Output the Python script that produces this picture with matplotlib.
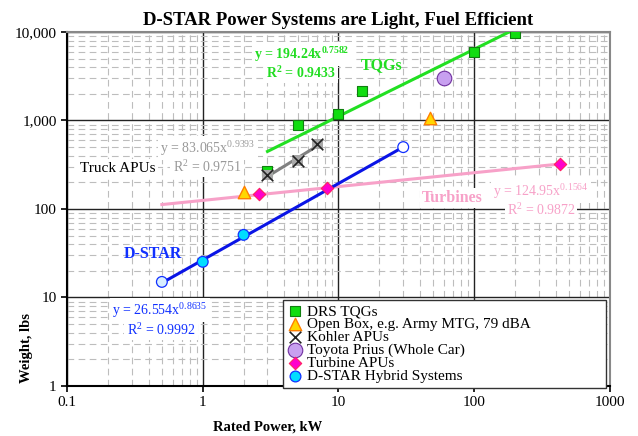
import numpy as np
import matplotlib.pyplot as plt
from matplotlib.ticker import FixedLocator, NullFormatter

plt.rcParams['font.family'] = ['Liberation Serif', 'DejaVu Serif']
plt.rcParams['mathtext.fontset'] = 'custom'
plt.rcParams['mathtext.rm'] = 'Liberation Serif'
plt.rcParams['mathtext.bf'] = 'Liberation Serif:bold'

# data
drs_kw = [3, 5, 10, 15, 100, 200]
drs_lb = [270, 890, 1180, 2170, 5900, 9700]

openbox_kw = [2, 47]
openbox_lb = [157, 1070]

kohler_kw = [3, 5, 7]
kohler_lb = [242, 351, 542]

prius_kw = [60]
prius_lb = [3050]

turbine_kw = [2.6, 8.3, 430]
turbine_lb = [148, 171, 322]

dstar_kw = [0.5, 1, 2, 30]
dstar_lb = [15, 25.3, 51, 500]

# power-law trendlines printed on the chart: y = a * x^b, R^2
fit_tqg = (194.24, 0.7582, 0.9433)
fit_kohler = (83.065, 0.9393, 0.9751)
fit_turb = (124.95, 0.1564, 0.9872)
fit_dstar = (26.554, 0.8635, 0.9992)


def trend(fit, x0, x1):
    x = np.logspace(np.log10(x0), np.log10(x1), 50)
    return x, fit[0] * x ** fit[1]


def fx(px):
    return px / 638.0


def fy(py):
    return 1 - py / 436.0


fig = plt.figure(figsize=(6.38, 4.36), dpi=100)
ax = fig.add_axes([0.105, 0.1147, 0.851, 0.812])
ax.set_xscale('log')
ax.set_yscale('log')
ax.set_xlim(0.1, 1000)
ax.set_ylim(1, 10000)

# grid
ax.xaxis.set_minor_locator(FixedLocator([m * 10.0 ** e for e in range(-1, 3) for m in range(2, 10)]))
ax.yaxis.set_minor_locator(FixedLocator([m * 10.0 ** e for e in range(0, 4) for m in range(2, 10)]))
ax.xaxis.set_minor_formatter(NullFormatter())
ax.yaxis.set_minor_formatter(NullFormatter())
ax.grid(which='minor', color='#bdbdbd', lw=0.8, ls=(0, (6, 4)))
ax.grid(which='major', color='#222222', lw=1.0)
ax.set_axisbelow(True)
ax.tick_params(which='minor', length=0)
ax.tick_params(which='major', direction='out', length=4, width=1.2, labelsize=11)

ax.set_xticks([0.1, 1, 10, 100, 1000])
ax.set_xticklabels(['0.1', '1', '10', '100', '1000'])
ax.set_yticks([1, 10, 100, 1000, 10000])
ax.set_yticklabels(['1', '10', '100', '1,000', '10,000'])

for s in ['top', 'right']:
    ax.spines[s].set_color('#888888')
    ax.spines[s].set_linewidth(1.5)
for s in ['left', 'bottom']:
    ax.spines[s].set_color('black')
    ax.spines[s].set_linewidth(1.5)

# trendlines
x, y = trend(fit_tqg, 3, 200)
ax.plot(x, y, color='#22e022', lw=2.2, zorder=3)
x, y = trend(fit_kohler, 3, 7)
ax.plot(x, y, color='#808080', lw=2.2, zorder=3)
x, y = trend(fit_turb, 0.5, 430)
ax.plot(x, y, color='#f7a1c8', lw=2.2, zorder=3)
x, y = trend(fit_dstar, 0.5, 30)
ax.plot(x, y, color='#0a14e6', lw=2.2, zorder=3)

# markers
ax.scatter(drs_kw, drs_lb, marker='s', s=60, c='#11dd11', edgecolors='#108010',
           lw=0.8, zorder=4, label='DRS TQGs')
ax.scatter(openbox_kw, openbox_lb, marker='^', s=80, c='#ffd700', edgecolors='#ff7f00',
           lw=1.0, zorder=4, label='Open Box, e.g. Army MTG, 79 dBA')
ax.scatter(kohler_kw, kohler_lb, marker='s', s=60, c='#a8a8a8', edgecolors='none', zorder=4)
ax.scatter(kohler_kw, kohler_lb, marker='x', s=70, c='#222222', lw=1.2, zorder=5,
           label='Kohler APUs')
ax.scatter(prius_kw, prius_lb, marker='o', s=110, c='#c8a0f0', edgecolors='#7030a0',
           lw=0.8, zorder=4, label='Toyota Prius (Whole Car)')
ax.scatter(turbine_kw, turbine_lb, marker='D', s=40, c='#ff00cc', edgecolors='#ff2060',
           lw=0.8, zorder=4, label='Turbine APUs')
ax.scatter(dstar_kw, dstar_lb, marker='o', s=60,
           c=['#d8eeff', '#00ddff', '#00ddff', '#ffffff'], edgecolors='#1030ff',
           lw=0.9, zorder=4, label='D-STAR Hybrid Systems')

box = dict(facecolor='white', edgecolor='none', pad=1.5)


def eq_texts(xy1, xy2, fit, fmt, color, weight='normal', size=10):
    ax.text(*xy1, fmt % (fit[0], fit[1]), transform=fig.transFigure, color=color,
            fontsize=size, fontweight=weight, ha='center', va='center', bbox=box, zorder=6)
    r2 = 'R$^\\mathbf{2}$ = %.4f' if weight == 'bold' else 'R$^2$ = %.4f'
    ax.text(*xy2, r2 % fit[2], transform=fig.transFigure, color=color,
            fontsize=size, fontweight=weight, ha='center', va='center', bbox=box, zorder=6)


eq_texts((fx(302), fy(54)), (fx(301), fy(73)), fit_tqg, 'y = %.2fx$^{\\mathbf{%.4f}}$',
         '#22dd22', weight='bold')
eq_texts((fx(208), fy(148)), (fx(207), fy(167)), fit_kohler, 'y = %.3fx$^{%.4f}$', '#999999')
eq_texts((fx(541), fy(191)), (fx(541), fy(210)), fit_turb, 'y = %.2fx$^{%.4f}$', '#f7a1c8')
eq_texts((fx(160), fy(310)), (fx(161), fy(330)), fit_dstar, 'y = %.3fx$^{%.4f}$', '#1030ff')

ax.text(fx(382), fy(65), 'TQGs', transform=fig.transFigure, color='#22dd22',
        fontsize=11.5, fontweight='bold', ha='center', va='center')
ax.text(fx(118), fy(168), 'Truck APUs', transform=fig.transFigure, color='black',
        fontsize=11, ha='center', va='center', bbox=box, zorder=6)
ax.text(fx(452), fy(198), 'Turbines', transform=fig.transFigure, color='#f7a1c8',
        fontsize=11.5, fontweight='bold', ha='center', va='center', bbox=box, zorder=6)
ax.text(fx(153), fy(254), 'D-STAR', transform=fig.transFigure, color='#1030ff',
        fontsize=11.5, fontweight='bold', ha='center', va='center')

ax.set_title('D-STAR Power Systems are Light, Fuel Efficient', fontsize=13.5,
             fontweight='bold', pad=5)
ax.set_xlabel('Rated Power, kW', fontsize=10.5, fontweight='bold')
ax.xaxis.set_label_coords((268 - 67) / 543.0, -(421 - 386) / 354.0)
ax.set_ylabel('Weight, lbs', fontsize=10.5, fontweight='bold')
ax.yaxis.set_label_coords((33 - 67) / 543.0, (386 - 348) / 354.0)

leg = ax.legend(loc='upper left',
                bbox_to_anchor=(fx(283), fy(381), fx(606) - fx(283), fy(300) - fy(381)),
                mode='expand', bbox_transform=fig.transFigure, fontsize=11, frameon=True,
                fancybox=False, edgecolor='#333333', framealpha=1,
                handletextpad=0.3, labelspacing=-0.05, borderpad=0.3,
                handlelength=1.0, borderaxespad=0)
leg.get_frame().set_linewidth(1.0)
leg.legend_handles[-1].set_facecolor('#00ddff')
leg.set_zorder(7)

fig.savefig('out.png', dpi=100)
